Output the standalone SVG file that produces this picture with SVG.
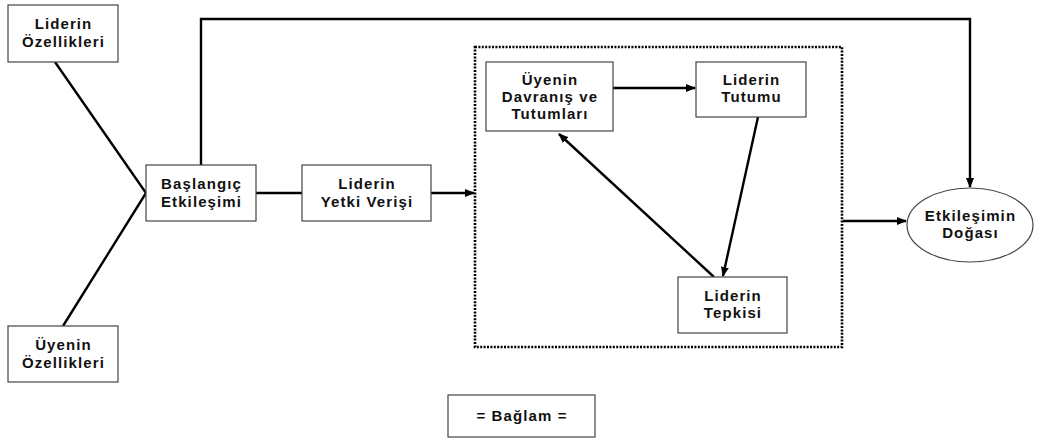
<svg xmlns="http://www.w3.org/2000/svg" width="1040" height="439" viewBox="0 0 1040 439">
  <style>
    .box { fill: #fff; stroke: #444; stroke-width: 1.2; }
    .lbl { font-family: "Liberation Sans", Arial, sans-serif; font-weight: bold; font-size: 15px; letter-spacing: 1.1px; fill: #111; text-anchor: middle; }
    .ln { fill: none; stroke: #000; stroke-width: 2.4; }
    .ctx { fill: none; stroke: #000; stroke-width: 2.6; stroke-dasharray: 2 1.4; }
  </style>
  <defs>
    <marker id="ah" markerWidth="10" markerHeight="8" refX="9" refY="4" orient="auto" markerUnits="userSpaceOnUse">
      <path d="M0,0 L10,4 L0,8 Z" fill="#000"/>
    </marker>
  </defs>
  <rect width="1040" height="439" fill="#fff"/>

  <g id="connectors">
    <path class="ln" d="M55,62 L146,193 L63,326"/>
    <path class="ln" d="M256,193 L302,193"/>
    <path class="ln" d="M431,193 L474,193" marker-end="url(#ah)"/>
    <path class="ln" d="M201,165 L201,19 L970,19 L970,187" marker-end="url(#ah)"/>
    <path class="ln" d="M613,88 L695,88" marker-end="url(#ah)"/>
    <path class="ln" d="M758,117 L723,276" marker-end="url(#ah)"/>
    <path class="ln" d="M714,277 L559,134" marker-end="url(#ah)"/>
    <path class="ln" d="M843,221 L906,221" marker-end="url(#ah)"/>
  </g>

  <g id="context">
    <rect class="ctx" x="475" y="47" width="367" height="300"/>
  </g>

  <g id="lider-ozellikleri">
    <rect class="box" x="8" y="5" width="110" height="57"/>
    <text class="lbl" x="63.5" y="29">Liderin</text>
    <text class="lbl" x="63.5" y="47">Özellikleri</text>
  </g>

  <g id="uye-ozellikleri">
    <rect class="box" x="8" y="326" width="110" height="56"/>
    <text class="lbl" x="63.5" y="350">Üyenin</text>
    <text class="lbl" x="63.5" y="368">Özellikleri</text>
  </g>

  <g id="baslangic">
    <rect class="box" x="146" y="165" width="110" height="56"/>
    <text class="lbl" x="201.5" y="189">Başlangıç</text>
    <text class="lbl" x="201.5" y="207">Etkileşimi</text>
  </g>

  <g id="yetki">
    <rect class="box" x="302" y="165" width="129" height="56"/>
    <text class="lbl" x="367" y="189">Liderin</text>
    <text class="lbl" x="367" y="207">Yetki Verişi</text>
  </g>

  <g id="uye-davranis">
    <rect class="box" x="486" y="62" width="127" height="69"/>
    <text class="lbl" x="550" y="85">Üyenin</text>
    <text class="lbl" x="550" y="102">Davranış ve</text>
    <text class="lbl" x="550" y="119">Tutumları</text>
  </g>

  <g id="lider-tutumu">
    <rect class="box" x="696" y="62" width="110" height="55"/>
    <text class="lbl" x="751.5" y="85">Liderin</text>
    <text class="lbl" x="751.5" y="102">Tutumu</text>
  </g>

  <g id="lider-tepkisi">
    <rect class="box" x="678" y="277" width="109" height="56"/>
    <text class="lbl" x="733" y="301">Liderin</text>
    <text class="lbl" x="733" y="318">Tepkisi</text>
  </g>

  <g id="etkilesim-dogasi">
    <ellipse class="box" cx="970" cy="225" rx="63" ry="37"/>
    <text class="lbl" x="970.5" y="221">Etkileşimin</text>
    <text class="lbl" x="970.5" y="238">Doğası</text>
  </g>

  <g id="baglam">
    <rect class="box" x="448" y="395" width="147" height="42"/>
    <text class="lbl" x="522" y="421">= Bağlam =</text>
  </g>
</svg>
